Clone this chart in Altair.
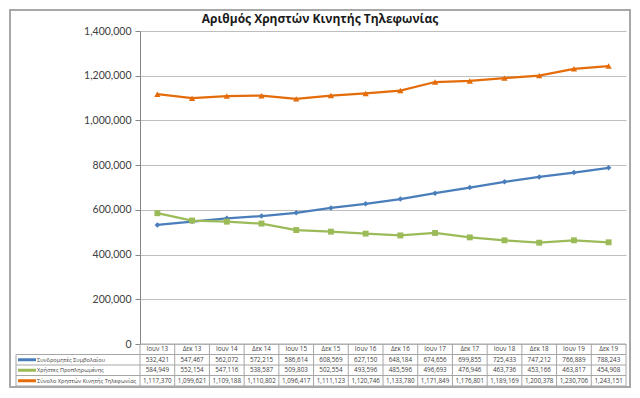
import altair as alt
import pandas as pd

cats = ["Ιουν 13", "Δεκ 13", "Ιουν 14", "Δεκ 14", "Ιουν 15", "Δεκ 15", "Ιουν 16",
        "Δεκ 16", "Ιουν 17", "Δεκ 17", "Ιουν 18", "Δεκ 18", "Ιουν 19", "Δεκ 19"]
contract = [532421, 547467, 562072, 572215, 586614, 608569, 627150,
            648184, 674656, 699855, 725433, 747212, 766889, 788243]
prepaid = [584949, 552154, 547116, 538587, 509803, 502554, 493596,
           485596, 496693, 476946, 463736, 453166, 463817, 454908]
total = [1117370, 1099621, 1109188, 1110802, 1096417, 1111123, 1120746,
         1133780, 1171849, 1176801, 1189169, 1200378, 1230706, 1243151]
series = ["Συνδρομητές Συμβολαίου", "Χρήστες Προπληρωμένης",
          "Σύνολο Χρηστών Κινητής Τηλεφωνίας"]
colors = ["#4A7EBB", "#9BBB59", "#E46C0A"]
shapes = ["diamond", "square", "triangle-up"]
sizes = [30, 40, 45]
y_ticks = [0, 200000, 400000, 600000, 800000, 1000000, 1200000, 1400000]
title_text = "Αριθμός Χρηστών Κινητής Τηλεφωνίας"

rows = []
for s, vals in zip(series, [contract, prepaid, total]):
    for c, v in zip(cats, vals):
        rows.append({"cat": c, "series": s, "value": v})
df = pd.DataFrame(rows)
hdr = pd.DataFrame({"cat": cats, "row": ["hdr"] * len(cats)})
ser = pd.DataFrame({"row": series})
one = pd.DataFrame({"a": [0]})

W, H, TH = 486, 313, 42
FONT = "Open Sans"
LINE = "#A6A6A6"

color = alt.Color("series:N", scale=alt.Scale(domain=series, range=colors), legend=None)
xp = alt.X("cat:N", scale=alt.Scale(type="point", padding=0.5, domain=cats), axis=None)
yv = alt.Y("value:Q", scale=alt.Scale(domain=[0, 1400000], nice=False),
           axis=alt.Axis(values=y_ticks, format=",d", grid=True, gridColor="#BDBDBD",
                         domainColor="#868686", tickColor="#868686", tickSize=5,
                         labelPadding=4, labelFont="Lato", labelFontSize=10.5,
                         labelColor="#404040", title=None))

frame = alt.Chart(one).mark_rect(fill=None, stroke="#A8A8A8", strokeWidth=2).encode(
    x=alt.value(-130), x2=alt.value(490), y=alt.value(-21), y2=alt.value(H + TH + 1))
title = alt.Chart(one).mark_text(text=title_text, font=FONT, fontSize=12,
                                 fontWeight="bold", color="#1a1a1a").encode(
    x=alt.value(180), y=alt.value(-12))
lines = alt.Chart(df).mark_line(strokeWidth=2.25).encode(x=xp, y=yv, color=color)
pts = alt.Chart(df).mark_point(filled=True, opacity=1).encode(
    x=xp, y=yv, color=color,
    shape=alt.Shape("series:N", scale=alt.Scale(domain=series, range=shapes), legend=None),
    size=alt.Size("series:N", scale=alt.Scale(domain=series, range=sizes), legend=None))

top = alt.layer(frame, title, lines, pts).properties(width=W, height=H)

xb = lambda bp: alt.X("cat:N", bandPosition=bp,
                      scale=alt.Scale(type="band", domain=cats, paddingInner=0, paddingOuter=0),
                      axis=None)
yb = lambda bp: alt.Y("row:N", bandPosition=bp,
                      scale=alt.Scale(type="band", domain=["hdr"] + series,
                                      paddingInner=0, paddingOuter=0),
                      axis=None)

df_t = df.rename(columns={"series": "row"})
hlines = alt.Chart(ser).mark_rule(color=LINE, strokeWidth=1).encode(
    y=yb(0), x=alt.value(-124), x2=alt.value(W))
hbottom = alt.Chart(one).mark_rule(color=LINE, strokeWidth=1).encode(
    y=alt.value(TH), x=alt.value(-124), x2=alt.value(W))
htop = alt.Chart(one).mark_rule(color=LINE, strokeWidth=1).encode(
    y=alt.value(0), x=alt.value(0), x2=alt.value(W))
vlines = alt.Chart(hdr).mark_rule(color=LINE, strokeWidth=1).encode(
    x=xb(0), y=alt.value(0), y2=alt.value(TH))
vright = alt.Chart(one).mark_rule(color=LINE, strokeWidth=1).encode(
    x=alt.value(W), y=alt.value(0), y2=alt.value(TH))
vleft = alt.Chart(one).mark_rule(color=LINE, strokeWidth=1).encode(
    x=alt.value(-124), y=alt.value(TH / 4), y2=alt.value(TH))
hdr_txt = alt.Chart(hdr).mark_text(font=FONT, fontSize=6.3, color="#404040").encode(
    x=xb(0.5), y=yb(0.5), text="cat:N")
val_txt = alt.Chart(df_t).mark_text(font=FONT, fontSize=6.3, color="#404040").encode(
    x=xb(0.5), y=yb(0.5), text=alt.Text("value:Q", format=",d"))
swatch = alt.Chart(ser).mark_rule(strokeWidth=3).encode(
    y=yb(0.5), x=alt.value(-122), x2=alt.value(-104),
    color=alt.Color("row:N", scale=alt.Scale(domain=series, range=colors), legend=None))
names = alt.Chart(ser).mark_text(font=FONT, fontSize=5.6, align="left", color="#404040").encode(
    y=yb(0.5), x=alt.value(-103), text="row:N")

table = alt.layer(hlines, hbottom, htop, vlines, vright, vleft, hdr_txt, val_txt,
                  swatch, names).properties(width=W, height=TH)

chart = alt.vconcat(top, table, spacing=0, bounds="flush", padding=1).configure_view(
    stroke=None).resolve_scale(color="independent")

chart.save("out.html", embed_options={"renderer": "svg", "actions": False})
